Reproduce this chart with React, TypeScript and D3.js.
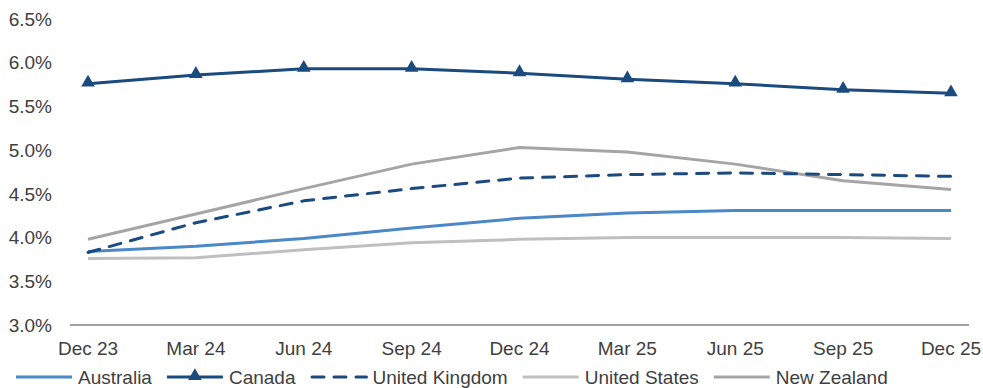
import React, { useEffect, useRef } from "react";
import * as d3 from "d3";

const categories = ["Dec 23", "Mar 24", "Jun 24", "Sep 24", "Dec 24", "Mar 25", "Jun 25", "Sep 25", "Dec 25"];
const yTicks = [3.0, 3.5, 4.0, 4.5, 5.0, 5.5, 6.0, 6.5];

const australia = [3.84, 3.90, 3.99, 4.11, 4.22, 4.28, 4.31, 4.31, 4.31];
const canada = [5.76, 5.86, 5.93, 5.93, 5.88, 5.81, 5.76, 5.69, 5.65];
const unitedKingdom = [3.83, 4.17, 4.42, 4.56, 4.68, 4.72, 4.74, 4.72, 4.70];
const unitedStates = [3.76, 3.77, 3.86, 3.94, 3.98, 4.0, 4.0, 4.0, 3.99];
const newZealand = [3.98, 4.27, 4.56, 4.84, 5.03, 4.98, 4.84, 4.65, 4.55];

const seriesNames = ["Australia", "Canada", "United Kingdom", "United States", "New Zealand"];

type Style = { color: string; dash?: string; marker?: boolean };
const styles: Style[] = [
  { color: "#4A88C7" },
  { color: "#1A4A7E", marker: true },
  { color: "#1A4A7E", dash: "12 10" },
  { color: "#BFBFBF" },
  { color: "#A5A5A5" },
];

const W = 983;
const H = 388;
const FONT = "'Liberation Sans', Arial, sans-serif";
const TEXT = "#404040";
const FS = 19;

export default function App() {
  const ref = useRef<SVGSVGElement | null>(null);

  useEffect(() => {
    const svg = d3.select(ref.current);
    svg.selectAll("*").remove();

    const data = [australia, canada, unitedKingdom, unitedStates, newZealand];

    const x = d3.scalePoint<string>().domain(categories).range([70, 969]).padding(0.167);
    const y = d3.scaleLinear().domain([3.0, 6.5]).range([325, 19]);

    // Y labels
    svg
      .append("g")
      .selectAll("text")
      .data(yTicks)
      .join("text")
      .attr("x", 52)
      .attr("y", (d) => y(d))
      .attr("dy", "0.35em")
      .attr("text-anchor", "end")
      .attr("font-family", FONT)
      .attr("font-size", FS)
      .attr("fill", TEXT)
      .text((d) => d.toFixed(1) + "%");

    // X axis line
    svg
      .append("line")
      .attr("x1", 70)
      .attr("x2", 969)
      .attr("y1", y(3.0))
      .attr("y2", y(3.0))
      .attr("stroke", "#404040")
      .attr("stroke-width", 1.2);

    // X labels
    svg
      .append("g")
      .selectAll("text")
      .data(categories)
      .join("text")
      .attr("x", (d) => x(d)!)
      .attr("y", 355)
      .attr("text-anchor", "middle")
      .attr("font-family", FONT)
      .attr("font-size", FS)
      .attr("fill", TEXT)
      .text((d) => d);

    const line = d3
      .line<number>()
      .x((_, i) => x(categories[i])!)
      .y((d) => y(d));

    const order = [4, 3, 0, 2, 1];
    order.forEach((si) => {
      const st = styles[si];
      svg
        .append("path")
        .attr("d", line(data[si])!)
        .attr("fill", "none")
        .attr("stroke", st.color)
        .attr("stroke-width", 3)
        .attr("stroke-linejoin", "round")
        .attr("stroke-linecap", st.dash ? "round" : "butt")
        .attr("stroke-dasharray", st.dash ?? null);
      if (st.marker) {
        const tri = d3.symbol().type(d3.symbolTriangle).size(80);
        svg
          .append("g")
          .selectAll("path")
          .data(data[si])
          .join("path")
          .attr("d", tri()!)
          .attr("transform", (d, i) => `translate(${x(categories[i])},${y(d) - 1})`)
          .attr("fill", st.color);
      }
    });

    // Legend
    const lg = svg.append("g").attr("transform", "translate(0,377)");
    let cx = 16;
    seriesNames.forEach((name, si) => {
      const st = styles[si];
      const g = lg.append("g");
      g.append("line")
        .attr("x1", cx + (st.dash ? 1.5 : 0))
        .attr("x2", cx + 56)
        .attr("y1", 0)
        .attr("y2", 0)
        .attr("stroke", st.color)
        .attr("stroke-width", 3)
        .attr("stroke-linecap", st.dash ? "round" : "butt")
        .attr("stroke-dasharray", st.dash ?? null);
      if (st.marker) {
        g.append("path")
          .attr("d", d3.symbol().type(d3.symbolTriangle).size(80)()!)
          .attr("transform", `translate(${cx + 28},-1)`)
          .attr("fill", st.color);
      }
      const t = g
        .append("text")
        .attr("x", cx + 62)
        .attr("y", 0)
        .attr("dy", "0.35em")
        .attr("font-family", FONT)
        .attr("font-size", FS)
        .attr("fill", TEXT)
        .text(name);
      const w = (t.node() as SVGTextElement).getComputedTextLength();
      cx = cx + 62 + w + 15;
    });
  }, []);

  return (
    <svg
      ref={ref}
      width={W}
      height={H}
      style={{ position: "absolute", left: 0, top: 0, background: "#fff" }}
    />
  );
}
